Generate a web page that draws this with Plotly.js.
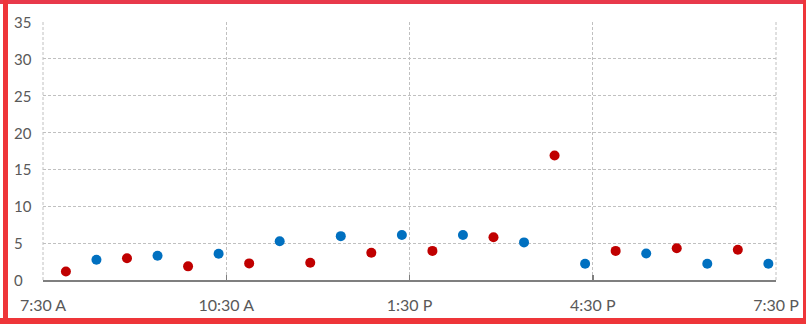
<!DOCTYPE html>
<html><head><meta charset="utf-8">
<script src="https://cdn.plot.ly/plotly-3.0.1.min.js"></script>
<style>
html,body{margin:0;padding:0;background:#fff;}
#wrap{position:relative;width:806px;height:324px;overflow:hidden;}
#chart{position:absolute;left:0;top:0;width:806px;height:324px;}
.bd{position:absolute;background:#ee3539;}
</style></head>
<body>
<div id="wrap">
<div id="chart"></div>
<div class="bd" style="left:0;top:0;width:806px;height:4px;background:#e8394b;"></div>
<div class="bd" style="left:3px;top:0;width:5px;height:324px;"></div>
<div class="bd" style="left:0;top:318px;width:806px;height:6px;"></div>
<div class="bd" style="left:803px;top:0;width:3px;height:324px;"></div>
</div>
<script>
const redTimes = ["2024-01-01 07:52:30","2024-01-01 08:52:30","2024-01-01 09:52:30","2024-01-01 10:52:30","2024-01-01 11:52:30","2024-01-01 12:52:30","2024-01-01 13:52:30","2024-01-01 14:52:30","2024-01-01 15:52:30","2024-01-01 16:52:30","2024-01-01 17:52:30","2024-01-01 18:52:30"];
const redValues = [1.15, 2.95, 1.85, 2.25, 2.35, 3.7, 3.95, 5.8, 16.9, 3.95, 4.3, 4.1];
const blueTimes = ["2024-01-01 08:22:30","2024-01-01 09:22:30","2024-01-01 10:22:30","2024-01-01 11:22:30","2024-01-01 12:22:30","2024-01-01 13:22:30","2024-01-01 14:22:30","2024-01-01 15:22:30","2024-01-01 16:22:30","2024-01-01 17:22:30","2024-01-01 18:22:30","2024-01-01 19:22:30"];
const blueValues = [2.75, 3.3, 3.55, 5.25, 5.95, 6.1, 6.1, 5.1, 2.2, 3.6, 2.2, 2.2];
const xTickVals = ["2024-01-01 07:30","2024-01-01 10:30","2024-01-01 13:30","2024-01-01 16:30","2024-01-01 19:30"];
const xTickText = ["7:30 A","10:30 A","1:30 P","4:30 P","7:30 P"];
const yTickVals = [0,5,10,15,20,25,30,35];

const font = {family:"Lato, 'Open Sans', sans-serif", size:15, color:"#595959"};
const xfont = {family:"Lato, 'Open Sans', sans-serif", size:16, color:"#595959"};
const grid = {color:"#c0c0c0", width:1, dash:"3px,2px"};
const traces = [
 {x:redTimes, y:redValues, type:"scatter", mode:"markers", name:"Red",
  marker:{color:"#c00000", size:10}, cliponaxis:false},
 {x:blueTimes, y:blueValues, type:"scatter", mode:"markers", name:"Blue",
  marker:{color:"#0070c0", size:10}, cliponaxis:false}
];
const annotations = yTickVals.map(v => ({
  xref:"paper", yref:"y", x:-0.0425, y:v, xanchor:"left", yanchor:"middle",
  text:String(v), showarrow:false, font:font
}));
const layout = {
  width:806, height:324,
  margin:{l:43, r:30, t:22, b:44},
  paper_bgcolor:"#fff", plot_bgcolor:"#fff",
  showlegend:false, font:font,
  xaxis:{type:"date", range:["2024-01-01 07:30","2024-01-01 19:30"],
    tickvals:xTickVals, ticktext:xTickText, tickmode:"array",
    showgrid:true, gridcolor:grid.color, griddash:grid.dash, gridwidth:1,
    showline:true, linecolor:"#7f7f7f", linewidth:1.5,
    ticks:"inside", ticklen:5, tickcolor:"#7f7f7f", tickwidth:1.5,
    ticklabelstandoff:10, zeroline:false, tickfont:xfont},
  yaxis:{range:[0,35], tickvals:yTickVals, showticklabels:false,
    showgrid:true, gridcolor:grid.color, griddash:grid.dash, gridwidth:1,
    showline:false, zeroline:false, ticks:""},
  shapes:[
    {type:"line", xref:"paper", yref:"paper", x0:0, x1:0, y0:0, y1:1, line:grid, layer:"below"},
    {type:"line", xref:"paper", yref:"paper", x0:1, x1:1, y0:0, y1:1, line:grid, layer:"below"}
  ],
  annotations:annotations
};
Plotly.newPlot("chart", traces, layout, {staticPlot:true, displayModeBar:false});
</script>
</body></html>
